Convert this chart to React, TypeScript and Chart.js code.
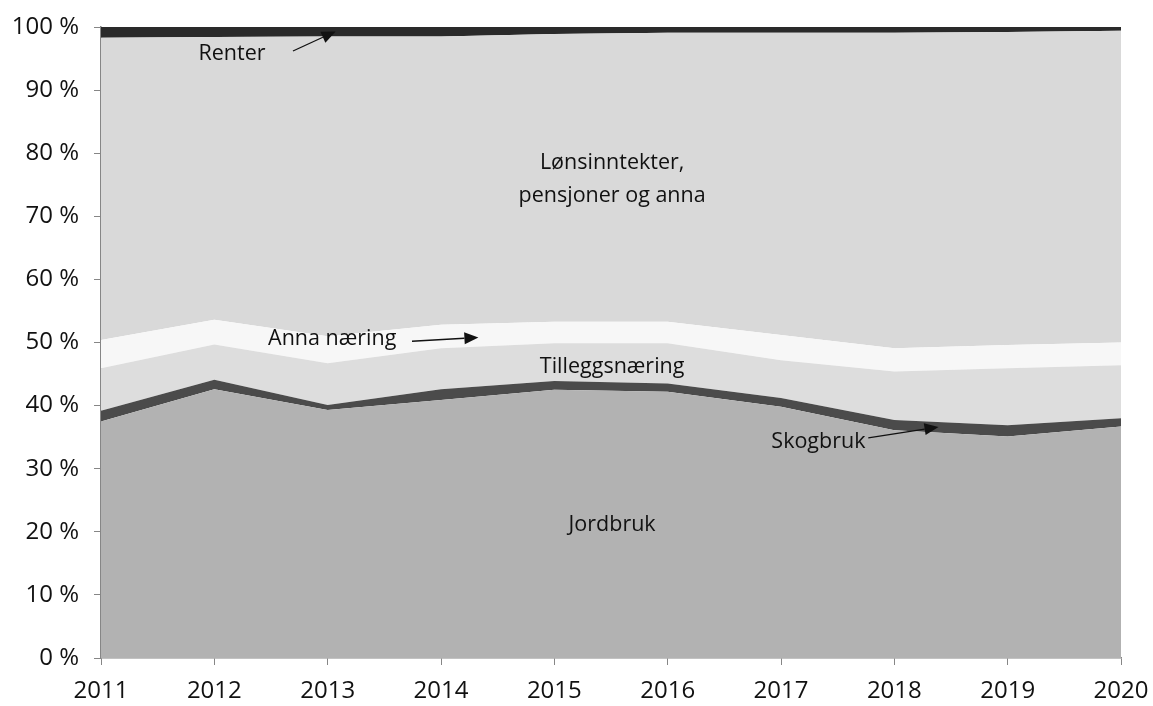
import React, { useEffect, useRef } from "react";
import { Chart, registerables } from "chart.js";

Chart.register(...registerables);

const years = ["2011", "2012", "2013", "2014", "2015", "2016", "2017", "2018", "2019", "2020"];

// Shares in percent (each year sums to 100)
const jordbruk = [37.5, 42.6, 39.3, 40.9, 42.5, 42.2, 39.8, 36.1, 35.1, 36.7];
const skogbruk = [1.7, 1.5, 0.8, 1.7, 1.4, 1.3, 1.4, 1.6, 1.8, 1.3];
const tilleggsnaering = [6.7, 5.6, 6.6, 6.5, 6.0, 6.4, 6.0, 7.7, 9.0, 8.4];
const annaNaering = [4.5, 3.9, 4.3, 3.7, 3.4, 3.4, 4.0, 3.7, 3.7, 3.6];
const renter = [1.7, 1.6, 1.5, 1.5, 1.1, 0.9, 0.9, 0.9, 0.8, 0.6];
const lonsinntekter = years.map(
  (_, i) => 100 - jordbruk[i] - skogbruk[i] - tilleggsnaering[i] - annaNaering[i] - renter[i]
);

const yTicks = [0, 10, 20, 30, 40, 50, 60, 70, 80, 90, 100];

const seriesNames = ["Jordbruk", "Skogbruk", "Tilleggsnæring", "Anna næring", "Lønsinntekter, pensjoner og anna", "Renter"];
const seriesColors = ["#b2b2b2", "#4b4b4b", "#dddddd", "#f7f7f7", "#d9d9d9", "#2a2a2a"];

// Annotation labels: [text, x (year index), y (percent)]
const labels: [string, number, number][] = [
  ["Renter", 1.156, 95.7],
  ["Lønsinntekter,", 4.51, 78.4],
  ["pensjoner og anna", 4.51, 73.3],
  ["Anna næring", 2.04, 50.6],
  ["Tilleggsnæring", 4.51, 46.2],
  ["Skogbruk", 6.33, 34.2],
  ["Jordbruk", 4.51, 21.1],
];
// Arrows: [x0, y0, x1 (tip), y1 (tip)]
const arrows: [number, number, number, number][] = [
  [1.694, 96.2, 2.07, 99.3],
  [2.744, 50.2, 3.33, 50.8],
  [6.77, 34.9, 7.39, 36.6],
];

const annotationPlugin = {
  id: "annotations",
  afterDatasetsDraw(chart: any) {
    const { ctx, scales } = chart;
    const xs = scales.x;
    const ys = scales.y;
    ctx.save();
    ctx.fillStyle = "#111";
    ctx.font = "21.5px 'Open Sans'";
    ctx.textAlign = "center";
    ctx.textBaseline = "middle";
    for (const [t, x, y] of labels) {
      ctx.fillText(t, xs.getPixelForValue(x), ys.getPixelForValue(y));
    }
    ctx.strokeStyle = "#111";
    ctx.lineWidth = 1.3;
    for (const [x0, y0, x1, y1] of arrows) {
      const px0 = xs.getPixelForValue(x0);
      const py0 = ys.getPixelForValue(y0);
      const px1 = xs.getPixelForValue(x1);
      const py1 = ys.getPixelForValue(y1);
      const ang = Math.atan2(py1 - py0, px1 - px0);
      const hl = 14;
      const hw = 6;
      const bx = px1 - hl * Math.cos(ang);
      const by = py1 - hl * Math.sin(ang);
      ctx.beginPath();
      ctx.moveTo(px0, py0);
      ctx.lineTo(bx, by);
      ctx.stroke();
      ctx.beginPath();
      ctx.moveTo(px1, py1);
      ctx.lineTo(bx + hw * Math.sin(ang), by - hw * Math.cos(ang));
      ctx.lineTo(bx - hw * Math.sin(ang), by + hw * Math.cos(ang));
      ctx.closePath();
      ctx.fill();
    }
    ctx.restore();
  },
};

export default function App() {
  const ref = useRef<HTMLCanvasElement | null>(null);
  useEffect(() => {
    if (!ref.current) return;
    const allData = [jordbruk, skogbruk, tilleggsnaering, annaNaering, lonsinntekter, renter];
    const chart = new Chart(ref.current, {
      type: "line",
      data: {
        labels: years,
        datasets: allData.map((d, i) => ({
          label: seriesNames[i],
          data: d,
          backgroundColor: seriesColors[i],
          borderColor: seriesColors[i],
          borderWidth: 0,
          pointRadius: 0,
          fill: i === 0 ? "origin" : "-1",
          tension: 0,
        })),
      },
      options: {
        animation: false,
        responsive: true,
        maintainAspectRatio: false,
        layout: { padding: { top: 27, right: 32, left: 0, bottom: 0 } },
        plugins: { legend: { display: false }, tooltip: { enabled: false } },
        scales: {
          x: {
            offset: false,
            grid: { drawOnChartArea: false, tickLength: 7, color: "#868686" },
            border: { color: "#868686", width: 1.5 },
            ticks: { color: "#111", font: { family: "'Open Sans'", size: 24 }, padding: 12, maxRotation: 0 },
            afterFit: (s: any) => {
              s.height = 48;
              s.paddingLeft = 0;
              s.paddingRight = 0;
            },
          },
          y: {
            stacked: true,
            min: 0,
            max: 100,
            afterBuildTicks: (s: any) => { s.ticks = yTicks.map((v) => ({ value: v })); },
            grid: { drawOnChartArea: false, tickLength: 7, color: "#868686" },
            border: { color: "#868686", width: 1.5 },
            ticks: {
              color: "#111",
              font: { family: "'Open Sans'", size: 24 },
              padding: 15,
              callback: (v: any) => v + " %",
            },
            afterFit: (s: any) => {
              s.width = 101;
              s.paddingTop = 0;
              s.paddingBottom = 0;
            },
          },
        },
      },
      plugins: [annotationPlugin],
    });
    return () => chart.destroy();
  }, []);
  return (
    <div style={{ position: "absolute", left: 0, top: 0, width: 1153, height: 706, background: "#fff" }}>
      <canvas ref={ref} />
    </div>
  );
}
